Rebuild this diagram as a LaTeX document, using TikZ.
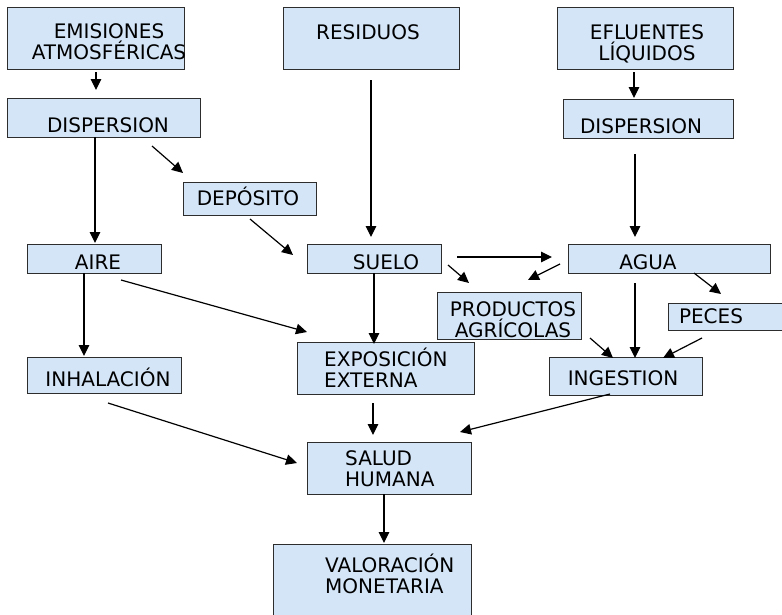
\documentclass[tikz,border=0pt]{standalone}
\usepackage{fontspec}
\setmainfont{DejaVu Sans}
\usetikzlibrary{arrows.meta}
\definecolor{boxfill}{RGB}{212,229,248}
\definecolor{boxline}{RGB}{45,45,45}
% box given by its pixel corners: name, x1, y1, x2, y2
\newcommand\flowbox[5]{%
  \node[box, minimum width={#4-#2}, minimum height={#5-#3}] (#1) at (#2,#3) {};}
\begin{document}
\begin{tikzpicture}[x=1pt,y=-1pt,
  box/.style={draw=boxline, line width=1.2pt, fill=boxfill, inner sep=0pt,
              anchor=north west},
  lbl/.style={inner sep=0pt, font=\fontsize{20}{21}\selectfont, anchor=base,
              align=center},
  lbll/.style={lbl, anchor=base west, align=left},
  arr/.style={line width=1.2pt, draw=black,
              -{Triangle[length=11pt,width=10.5pt]}}]
\useasboundingbox (0,0) rectangle (782,614);

% boxes
\flowbox{emis}{7}{7}{184}{69}
\flowbox{resid}{283}{7}{459}{69}
\flowbox{eflu}{557}{7}{733}{69}
\flowbox{dispL}{7}{98}{200}{137}
\flowbox{dispR}{563}{99}{733}{138}
\flowbox{dep}{183}{182}{316}{215}
\flowbox{aire}{27}{244}{161}{273}
\flowbox{suelo}{307}{244}{441}{273}
\flowbox{agua}{568}{244}{770}{273}
\flowbox{prod}{437}{292}{581}{339}
\flowbox{peces}{668}{303}{792}{330}
\flowbox{expo}{297}{342}{474}{394}
\flowbox{inhal}{27}{357}{181}{393}
\flowbox{ingest}{549}{357}{702}{395}
\flowbox{salud}{307}{442}{471}{494}
\flowbox{valor}{273}{544}{471}{624}

% labels (two-line labels sit on the baseline of their last line)
\node[lbl] (emis-t) at (109,59) {EMISIONES\\ATMOSFÉRICAS};
\node[lbl] (resid-t) at (368,39) {RESIDUOS};
\node[lbl] (eflu-t) at (647,60) {EFLUENTES\\LÍQUIDOS};
\node[lbl] (dispL-t) at (108,132) {DISPERSION};
\node[lbl] (dispR-t) at (641,133) {DISPERSION};
\node[lbl] (dep-t) at (248,205) {DEPÓSITO};
\node[lbl] (aire-t) at (98,269) {AIRE};
\node[lbl] (suelo-t) at (386,269) {SUELO};
\node[lbl] (agua-t) at (648,269) {AGUA};
\node[lbl] (prod-t) at (513,337) {PRODUCTOS\\AGRÍCOLAS};
\node[lbl] (peces-t) at (711,323) {PECES};
\node[lbll] (expo-t) at (324,387) {EXPOSICIÓN\\EXTERNA};
\node[lbl] (ingest-t) at (623,385) {INGESTION};
\node[lbl] (inhal-t) at (108,386) {INHALACIÓN};
\node[lbll] (salud-t) at (345,486) {SALUD\\HUMANA};
\node[lbll] (valor-t) at (325,593) {VALORACIÓN\\MONETARIA};

% connector end points
\coordinate (emis-o) at (96,72);      \coordinate (dispL-i) at (96,90);
\coordinate (dispL-o1) at (95,137);   \coordinate (aire-i) at (95,243);
\coordinate (dispL-o2) at (152,146);  \coordinate (dep-i) at (183,173);
\coordinate (dep-o) at (250,219);     \coordinate (suelo-i1) at (293,255);
\coordinate (resid-o) at (371,80);    \coordinate (suelo-i2) at (371,237);
\coordinate (eflu-o) at (634,72);     \coordinate (dispR-i) at (634,98);
\coordinate (dispR-o) at (635,154);   \coordinate (agua-i1) at (635,237);
\coordinate (suelo-o1) at (457,257);  \coordinate (agua-i2) at (552,257);
\coordinate (suelo-o2) at (448,265);  \coordinate (prod-i1) at (469,283);
\coordinate (agua-o1) at (560,264);   \coordinate (prod-i2) at (528,280);
\coordinate (agua-o2) at (694,273);   \coordinate (peces-i) at (721,294);
\coordinate (agua-o3) at (635,283);   \coordinate (ingest-i1) at (635,358);
\coordinate (prod-o) at (590,338);    \coordinate (ingest-i2) at (613,358);
\coordinate (peces-o) at (702,338);   \coordinate (ingest-i3) at (663,358);
\coordinate (aire-o1) at (121,280);   \coordinate (expo-i1) at (307,332);
\coordinate (suelo-o3) at (374,273);  \coordinate (expo-i2) at (374,344);
\coordinate (aire-o2) at (84,273);    \coordinate (inhal-i) at (84,356);
\coordinate (inhal-o) at (108,403);   \coordinate (salud-i1) at (297,463);
\coordinate (expo-o) at (373,403);    \coordinate (salud-i2) at (373,435);
\coordinate (ingest-o) at (610,394);  \coordinate (salud-i3) at (460,432);
\coordinate (salud-o) at (384,494);   \coordinate (valor-i) at (384,543);

% connectors
\draw[arr] (emis-o) -- (dispL-i);
\draw[arr] (dispL-o1) -- (aire-i);
\draw[arr] (dispL-o2) -- (dep-i);
\draw[arr] (dep-o) -- (suelo-i1);
\draw[arr] (resid-o) -- (suelo-i2);
\draw[arr] (eflu-o) -- (dispR-i);
\draw[arr] (dispR-o) -- (agua-i1);
\draw[arr] (suelo-o1) -- (agua-i2);
\draw[arr] (suelo-o2) -- (prod-i1);
\draw[arr] (agua-o1) -- (prod-i2);
\draw[arr] (agua-o2) -- (peces-i);
\draw[arr] (agua-o3) -- (ingest-i1);
\draw[arr] (prod-o) -- (ingest-i2);
\draw[arr] (peces-o) -- (ingest-i3);
\draw[arr] (aire-o1) -- (expo-i1);
\draw[arr] (suelo-o3) -- (expo-i2);
\draw[arr] (aire-o2) -- (inhal-i);
\draw[arr] (inhal-o) -- (salud-i1);
\draw[arr] (expo-o) -- (salud-i2);
\draw[arr] (ingest-o) -- (salud-i3);
\draw[arr] (salud-o) -- (valor-i);
\end{tikzpicture}
\end{document}
